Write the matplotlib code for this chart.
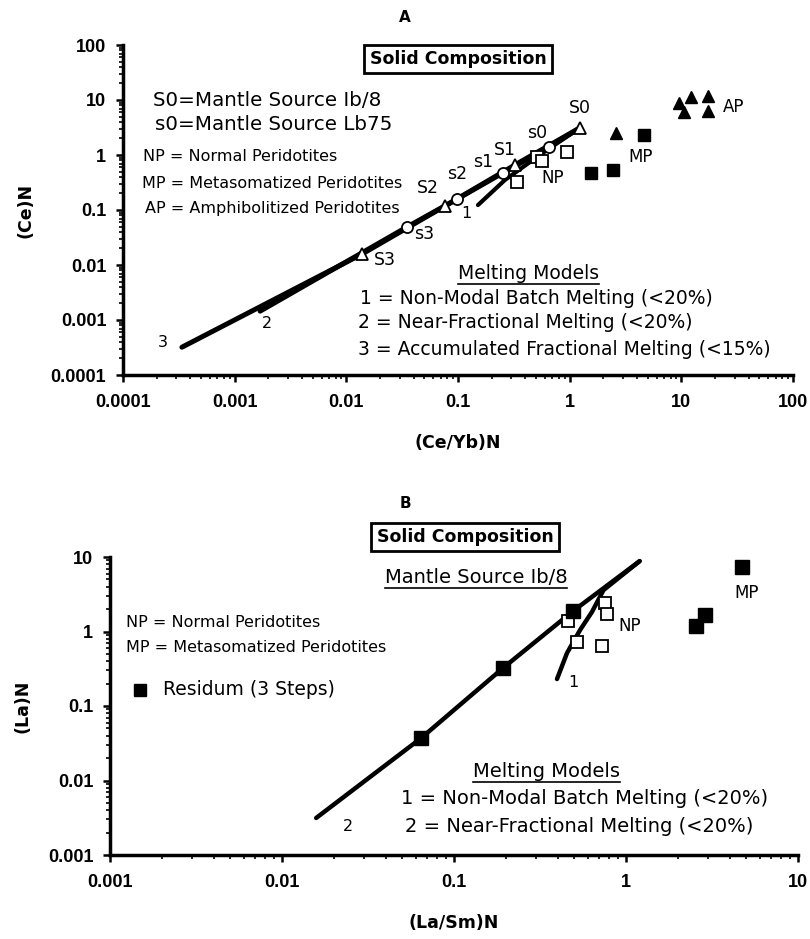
import numpy as np
import matplotlib.pyplot as plt
from matplotlib.ticker import LogLocator, NullFormatter
from matplotlib.lines import Line2D

plt.rcParams['font.family'] = ['DejaVu Sans']
TICKFONT = ['Liberation Sans', 'DejaVu Sans']

# ---------------- panel A : (Ce/Yb)N vs (Ce)N ----------------
a_c3_x = [3.37e-4, 0.0138, 0.0764, 0.323, 1.23]   # accumulated fractional
a_c3_y = [3.2e-4, 0.0158, 0.118, 0.658, 3.1]
a_c2_x = [1.69e-3, 0.0349, 0.098, 0.252, 0.652, 1.23]   # near-fractional
a_c2_y = [1.45e-3, 0.049, 0.158, 0.471, 1.40, 3.1]
a_c1_x = [0.151, 0.263, 0.54, 1.23]   # non-modal batch
a_c1_y = [0.123, 0.351, 1.0, 3.1]

a_S_x = [0.0138, 0.0764, 0.323, 1.23]
a_S_y = [0.0158, 0.118, 0.658, 3.1]
a_S_lab = ['S3', 'S2', 'S1', 'S0']
a_s_x = [0.0349, 0.098, 0.252, 0.652]
a_s_y = [0.049, 0.158, 0.471, 1.40]
a_s_lab = ['s3', 's2', 's1', 's0']

a_np_x = [0.944, 0.508, 0.564, 0.336]
a_np_y = [1.13, 0.92, 0.78, 0.32]
a_mp_x = [4.6, 1.55, 2.44]
a_mp_y = [2.31, 0.47, 0.53]
a_mpt_x = [2.6]
a_mpt_y = [2.5]
a_ap_x = [9.5, 12.2, 10.5, 17.3, 17.3]
a_ap_y = [8.8, 11.3, 6.05, 11.8, 6.3]

a_ticks = [1e-4, 1e-3, 1e-2, 1e-1, 1, 10, 100]
a_ticklabels = ['0.0001', '0.001', '0.01', '0.1', '1', '10', '100']

# ---------------- panel B : (La/Sm)N vs (La)N ----------------
b_c2_x = [0.0158, 0.0643, 0.193, 0.492, 1.2]
b_c2_y = [0.00314, 0.037, 0.324, 1.88, 8.8]
b_res_x = [0.0643, 0.193, 0.492]
b_res_y = [0.037, 0.324, 1.88]
b_c1_x = [0.397, 0.454, 0.541, 0.634, 0.74, 1.2]
b_c1_y = [0.23, 0.514, 1.05, 1.83, 3.6, 8.8]

b_np_x = [0.755, 0.776, 0.724, 0.519, 0.46]
b_np_y = [2.42, 1.72, 0.64, 0.72, 1.38]
b_mp_x = [4.72, 2.88, 2.55]
b_mp_y = [7.35, 1.66, 1.19]

b_ticks = [1e-3, 1e-2, 1e-1, 1, 10]
b_ticklabels = ['0.001', '0.01', '0.1', '1', '10']

W, H = 810, 939
fig = plt.figure(figsize=(W / 100, H / 100), dpi=100)
axA = fig.add_axes([123 / W, 1 - 375 / H, 670 / W, 330 / H])
axB = fig.add_axes([110 / W, 1 - 855 / H, 688 / W, 298 / H])


def style(ax, ticks, labels):
    ax.set_xscale('log')
    ax.set_yscale('log')
    ax.set_xlim(ticks[0], ticks[-1])
    ax.set_ylim(ticks[0], ticks[-1])
    for s in ['top', 'right']:
        ax.spines[s].set_visible(False)
    for s in ['left', 'bottom']:
        ax.spines[s].set_linewidth(2.5)
    ax.set_xticks(ticks, labels, fontweight='bold', family=TICKFONT, fontsize=13)
    ax.set_yticks(ticks, labels, fontweight='bold', family=TICKFONT, fontsize=13)
    for axis in [ax.xaxis, ax.yaxis]:
        axis.set_minor_locator(LogLocator(base=10, subs=np.arange(2, 10), numticks=30))
        axis.set_minor_formatter(NullFormatter())
    ax.tick_params(which='major', direction='out', length=5, width=1.8)
    ax.tick_params(which='minor', direction='out', length=3, width=1.2)
    ax.tick_params(axis='x', pad=9)
    ax.tick_params(axis='y', pad=7)


style(axA, a_ticks, a_ticklabels)
style(axB, b_ticks, b_ticklabels)

# ---- draw A
axA.plot(a_c3_x, a_c3_y, color='black', lw=3.6, solid_capstyle='round', zorder=2)
axA.plot(a_c2_x, a_c2_y, color='black', lw=3.6, solid_capstyle='round', zorder=2)
axA.plot(a_c1_x, a_c1_y, color='black', lw=3.0, solid_capstyle='round', zorder=2)
axA.plot(a_S_x, a_S_y, '^', ms=8, mfc='white', mec='black', mew=1.3, ls='none', zorder=4)
axA.plot(a_s_x, a_s_y, 'o', ms=8, mfc='white', mec='black', mew=1.3, ls='none', zorder=4)
axA.plot(a_np_x, a_np_y, 's', ms=8, mfc='white', mec='black', mew=1.3, ls='none', zorder=3)
axA.plot(a_mp_x, a_mp_y, 's', ms=8, mfc='black', mec='black', ls='none', zorder=3)
axA.plot(a_mpt_x, a_mpt_y, '^', ms=9, mfc='black', mec='black', ls='none', zorder=3)
axA.plot(a_ap_x, a_ap_y, '^', ms=9, mfc='black', mec='black', ls='none', zorder=3)

lab_pos_S = [(0.0222, 0.0125), (0.0537, 0.251), (0.263, 1.23), (1.23, 7.16)]
lab_pos_s = [(0.0495, 0.036), (0.098, 0.452), (0.167, 0.746), (0.508, 2.51)]
for (x, y), t in zip(lab_pos_S + lab_pos_s, a_S_lab + a_s_lab):
    axA.text(x, y, t, fontsize=12.5, ha='center', va='center')
axA.text(2.28e-4, 3.98e-4, '3', fontsize=11.5, ha='center', va='center')
axA.text(1.95e-3, 8.8e-4, '2', fontsize=11.5, ha='center', va='center')
axA.text(0.12, 0.088, '1', fontsize=11.5, ha='center', va='center')
axA.text(0.708, 0.382, 'NP', fontsize=12, ha='center', va='center')
axA.text(4.33, 0.92, 'MP', fontsize=12, ha='center', va='center')
axA.text(29.5, 7.46, 'AP', fontsize=12, ha='center', va='center')

axA.text(0.5, 0.958, 'Solid Composition', transform=axA.transAxes, fontsize=12.5,
         fontweight='bold', ha='center', va='center',
         bbox=dict(boxstyle='square,pad=0.3', fc='white', ec='black', lw=2))
axA.text(0.045, 0.833, 'S0=Mantle Source Ib/8', transform=axA.transAxes,
         fontsize=14.3, va='center')
axA.text(0.048, 0.758, 's0=Mantle Source Lb75', transform=axA.transAxes,
         fontsize=14.3, va='center')
axA.text(0.030, 0.661, 'NP = Normal Peridotites', transform=axA.transAxes,
         fontsize=11.5, va='center')
axA.text(0.028, 0.579, 'MP = Metasomatized Peridotites', transform=axA.transAxes,
         fontsize=11.5, va='center')
axA.text(0.033, 0.506, 'AP = Amphibolitized Peridotites', transform=axA.transAxes,
         fontsize=11.5, va='center')
mmA = axA.text(0.5, 0.309, 'Melting Models', transform=axA.transAxes,
               fontsize=13.5, va='center')
axA.text(0.354, 0.233, '1 = Non-Modal Batch Melting (<20%)', transform=axA.transAxes,
         fontsize=13.5, va='center')
axA.text(0.351, 0.158, '2 = Near-Fractional Melting (<20%)', transform=axA.transAxes,
         fontsize=13.5, va='center')
axA.text(0.351, 0.076, '3 = Accumulated Fractional Melting (<15%)', transform=axA.transAxes,
         fontsize=13.5, va='center')
axA.set_xlabel('(Ce/Yb)N', fontsize=12.5, fontweight='bold', labelpad=16)
axA.set_ylabel('(Ce)N', fontsize=12.5, fontweight='bold', labelpad=12)

# ---- draw B
axB.plot(b_c2_x, b_c2_y, color='black', lw=3.2, solid_capstyle='round', zorder=2)
axB.plot(b_c1_x, b_c1_y, color='black', lw=3.2, solid_capstyle='round', zorder=2)
axB.plot(b_np_x, b_np_y, 's', ms=8, mfc='white', mec='black', mew=1.3, ls='none', zorder=3)
axB.plot(b_res_x, b_res_y, 's', ms=9.5, mfc='black', mec='black', ls='none', zorder=4)
axB.plot(b_mp_x, b_mp_y, 's', ms=9.5, mfc='black', mec='black', ls='none', zorder=4)

axB.text(0.0242, 0.00245, '2', fontsize=11.5, ha='center', va='center')
axB.text(0.492, 0.204, '1', fontsize=11.5, ha='center', va='center')
axB.text(1.05, 1.19, 'NP', fontsize=12, ha='center', va='center')
axB.text(5.05, 3.29, 'MP', fontsize=12, ha='center', va='center')

axB.text(0.516, 1.067, 'Solid Composition', transform=axB.transAxes, fontsize=12.5,
         fontweight='bold', ha='center', va='center',
         bbox=dict(boxstyle='square,pad=0.3', fc='white', ec='black', lw=2))
msB = axB.text(0.532, 0.93, 'Mantle Source Ib/8', transform=axB.transAxes,
               fontsize=14, ha='center', va='center')
axB.text(0.023, 0.779, 'NP = Normal Peridotites', transform=axB.transAxes,
         fontsize=11.5, va='center')
axB.text(0.023, 0.695, 'MP = Metasomatized Peridotites', transform=axB.transAxes,
         fontsize=11.5, va='center')
axB.plot([0.044], [0.554], 's', ms=8, color='black', transform=axB.transAxes, clip_on=False)
axB.text(0.077, 0.554, 'Residum (3 Steps)', transform=axB.transAxes,
         fontsize=13.5, va='center')
mmB = axB.text(0.634, 0.279, 'Melting Models', transform=axB.transAxes,
               fontsize=14, ha='center', va='center')
axB.text(0.69, 0.191, '1 = Non-Modal Batch Melting (<20%)', transform=axB.transAxes,
         fontsize=14, ha='center', va='center')
axB.text(0.682, 0.094, '2 = Near-Fractional Melting (<20%)', transform=axB.transAxes,
         fontsize=14, ha='center', va='center')
axB.set_xlabel('(La/Sm)N', fontsize=12.5, fontweight='bold', labelpad=16)
axB.set_ylabel('(La)N', fontsize=12.5, fontweight='bold', labelpad=12)

fig.text(405 / W, 1 - 17 / H, 'A', fontsize=11, fontweight='bold', ha='center', va='center')
fig.text(405 / W, 1 - 503 / H, 'B', fontsize=11, fontweight='bold', ha='center', va='center')

# underline some headings
fig.canvas.draw()
r = fig.canvas.get_renderer()
for t in [mmA, mmB, msB]:
    bb = t.get_window_extent(r)
    y = (bb.y0 - 1) / H
    fig.add_artist(Line2D([bb.x0 / W, bb.x1 / W], [y, y], color='black', lw=1.2))

fig.savefig('out.png', dpi=100)
